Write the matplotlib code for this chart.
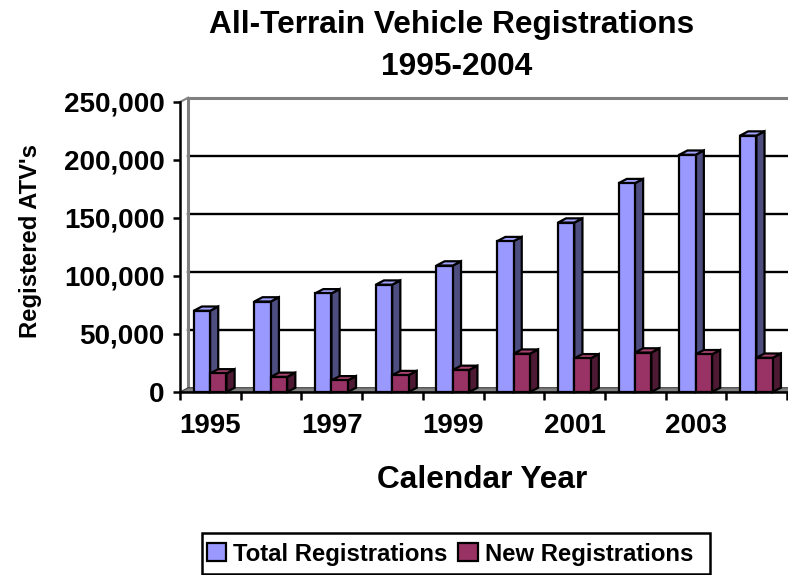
import matplotlib
matplotlib.use("Agg")
import matplotlib.pyplot as plt
from matplotlib.patches import Polygon, Rectangle
import numpy as np

plt.rcParams['font.family'] = ['Liberation Sans', 'DejaVu Sans']
plt.rcParams['font.weight'] = 'bold'

years = ['1995', '1996', '1997', '1998', '1999', '2000', '2001', '2002', '2003', '2004']
total_reg = [70000, 78000, 85000, 92500, 109000, 130000, 146000, 180000, 204500, 221000]
new_reg = [16000, 13000, 10000, 14500, 19000, 33000, 29000, 34000, 32500, 29500]
series_names = ['Total Registrations', 'New Registrations']
yticks = [0, 50000, 100000, 150000, 200000, 250000]

W, H = 788, 575
fig = plt.figure(figsize=(W / 100, H / 100), dpi=100)

px_per_unit_y = 290 / 250000.0
ymax = 255000
ax_left, ax_right, ax_bottom = 180, 787, 392
ax_h = ymax * px_per_unit_y
ax = fig.add_axes([ax_left / W, (H - ax_bottom) / H, (ax_right - ax_left) / W, ax_h / H])
n = len(years)
ax.set_xlim(0, n)
ax.set_ylim(0, ymax)

dx = 0.135          # depth offset in category units
dy = 3700           # depth offset in value units
wall_gray = '#808080'

# back wall gridlines
for v in yticks[1:-1]:
    ax.plot([dx, n + dx], [v + dy, v + dy], color='black', lw=1.7, zorder=1, clip_on=False)
# back wall top edge & left wall edge
ax.plot([dx, n + dx], [yticks[-1] + dy, yticks[-1] + dy], color=wall_gray, lw=2.2, zorder=1, clip_on=False)
ax.plot([dx, dx], [dy, yticks[-1] + dy], color=wall_gray, lw=2.2, zorder=1, clip_on=False)
ax.plot([0, dx], [yticks[-1], yticks[-1] + dy], color=wall_gray, lw=1.5, zorder=1, clip_on=False)
# floor
ax.add_patch(Polygon([(0, 0), (n, 0), (n + dx, dy), (dx, dy)], closed=True,
                     facecolor=wall_gray, edgecolor='#404040', lw=0.8, zorder=2, clip_on=False))

bw = 0.27
off_total = 0.225
elw = 1.6
styles = [
    dict(front='#9999FF', side='#4D4D80', top='#A3A3FF'),
    dict(front='#993366', side='#4D1933', top='#A8436F'),
]


def draw_bar3d(x, h, st, z):
    side = Polygon([(x + bw, 0), (x + bw + dx, dy), (x + bw + dx, h + dy), (x + bw, h)], closed=True,
                   facecolor=st['side'], edgecolor='black', lw=elw, zorder=z, clip_on=False)
    top = Polygon([(x, h), (x + bw, h), (x + bw + dx, h + dy), (x + dx, h + dy)], closed=True,
                  facecolor=st['top'], edgecolor='black', lw=elw, zorder=z, clip_on=False)
    ax.add_patch(side)
    ax.add_patch(top)


xs = np.arange(n)
for i in range(n):
    z = 3 + i * 2
    x0 = xs[i] + off_total
    draw_bar3d(x0, total_reg[i], styles[0], z)
    ax.bar(x0, total_reg[i], width=bw, align='edge', color=styles[0]['front'],
           edgecolor='black', lw=elw, zorder=z + 0.5, clip_on=False)
    x1 = x0 + bw
    draw_bar3d(x1, new_reg[i], styles[1], z + 1)
    ax.bar(x1, new_reg[i], width=bw, align='edge', color=styles[1]['front'],
           edgecolor='black', lw=elw, zorder=z + 1.5, clip_on=False)

# axes styling
for s in ['top', 'right']:
    ax.spines[s].set_visible(False)
ax.spines['left'].set_bounds(0, yticks[-1])
ax.spines['left'].set_linewidth(1.8)
ax.spines['bottom'].set_linewidth(1.8)
ax.spines['left'].set_zorder(50)
ax.spines['bottom'].set_zorder(50)
ax.patch.set_alpha(0)

ax.set_yticks(yticks)
ax.set_yticklabels([f'{v:,}' for v in yticks])
ax.tick_params(axis='y', length=5, width=1.8, pad=6, labelsize=20)

ax.set_xticks(np.arange(n + 1))
ax.set_xticklabels([])
ax.set_xticks(xs + 0.5, minor=True)
ax.set_xticklabels([y if i % 2 == 0 else '' for i, y in enumerate(years)], minor=True)
ax.tick_params(axis='x', which='major', length=6, width=1.8, direction='out')
ax.tick_params(axis='x', which='minor', length=0, pad=15, labelsize=20)

# titles and labels
fig.text(452 / W, 1 - 33 / H, 'All-Terrain Vehicle Registrations', ha='center', va='baseline',
         fontsize=22.8, fontweight='bold')
fig.text(457 / W, 1 - 75 / H, '1995-2004', ha='center', va='baseline', fontsize=22.8, fontweight='bold')
fig.text(482 / W, 1 - 488 / H, 'Calendar Year', ha='center', va='baseline', fontsize=22.8, fontweight='bold')
fig.text(30 / W, 1 - 241 / H, "Registered ATV's", ha='center', va='center', rotation=90,
         fontsize=17.2, fontweight='bold')

# legend
handles = [Rectangle((0, 0), 1, 1, facecolor=st['front'], edgecolor='black', lw=1.6) for st in styles]
leg = fig.legend(handles, series_names, loc='center left', bbox_to_anchor=(207 / W, 1 - 554 / H),
                 ncol=2, frameon=False, fontsize=17.2, handlelength=0.8, handleheight=0.75,
                 handletextpad=0.3, columnspacing=0.45, borderpad=0, borderaxespad=0)
for t in leg.get_texts():
    t.set_fontweight('bold')
fig.add_artist(Rectangle((202 / W, 1 - 574 / H), (710 - 202) / W, (574 - 533) / H,
                         transform=fig.transFigure, facecolor='none', edgecolor='black', lw=1.8))

fig.savefig('out.png', dpi=100)
